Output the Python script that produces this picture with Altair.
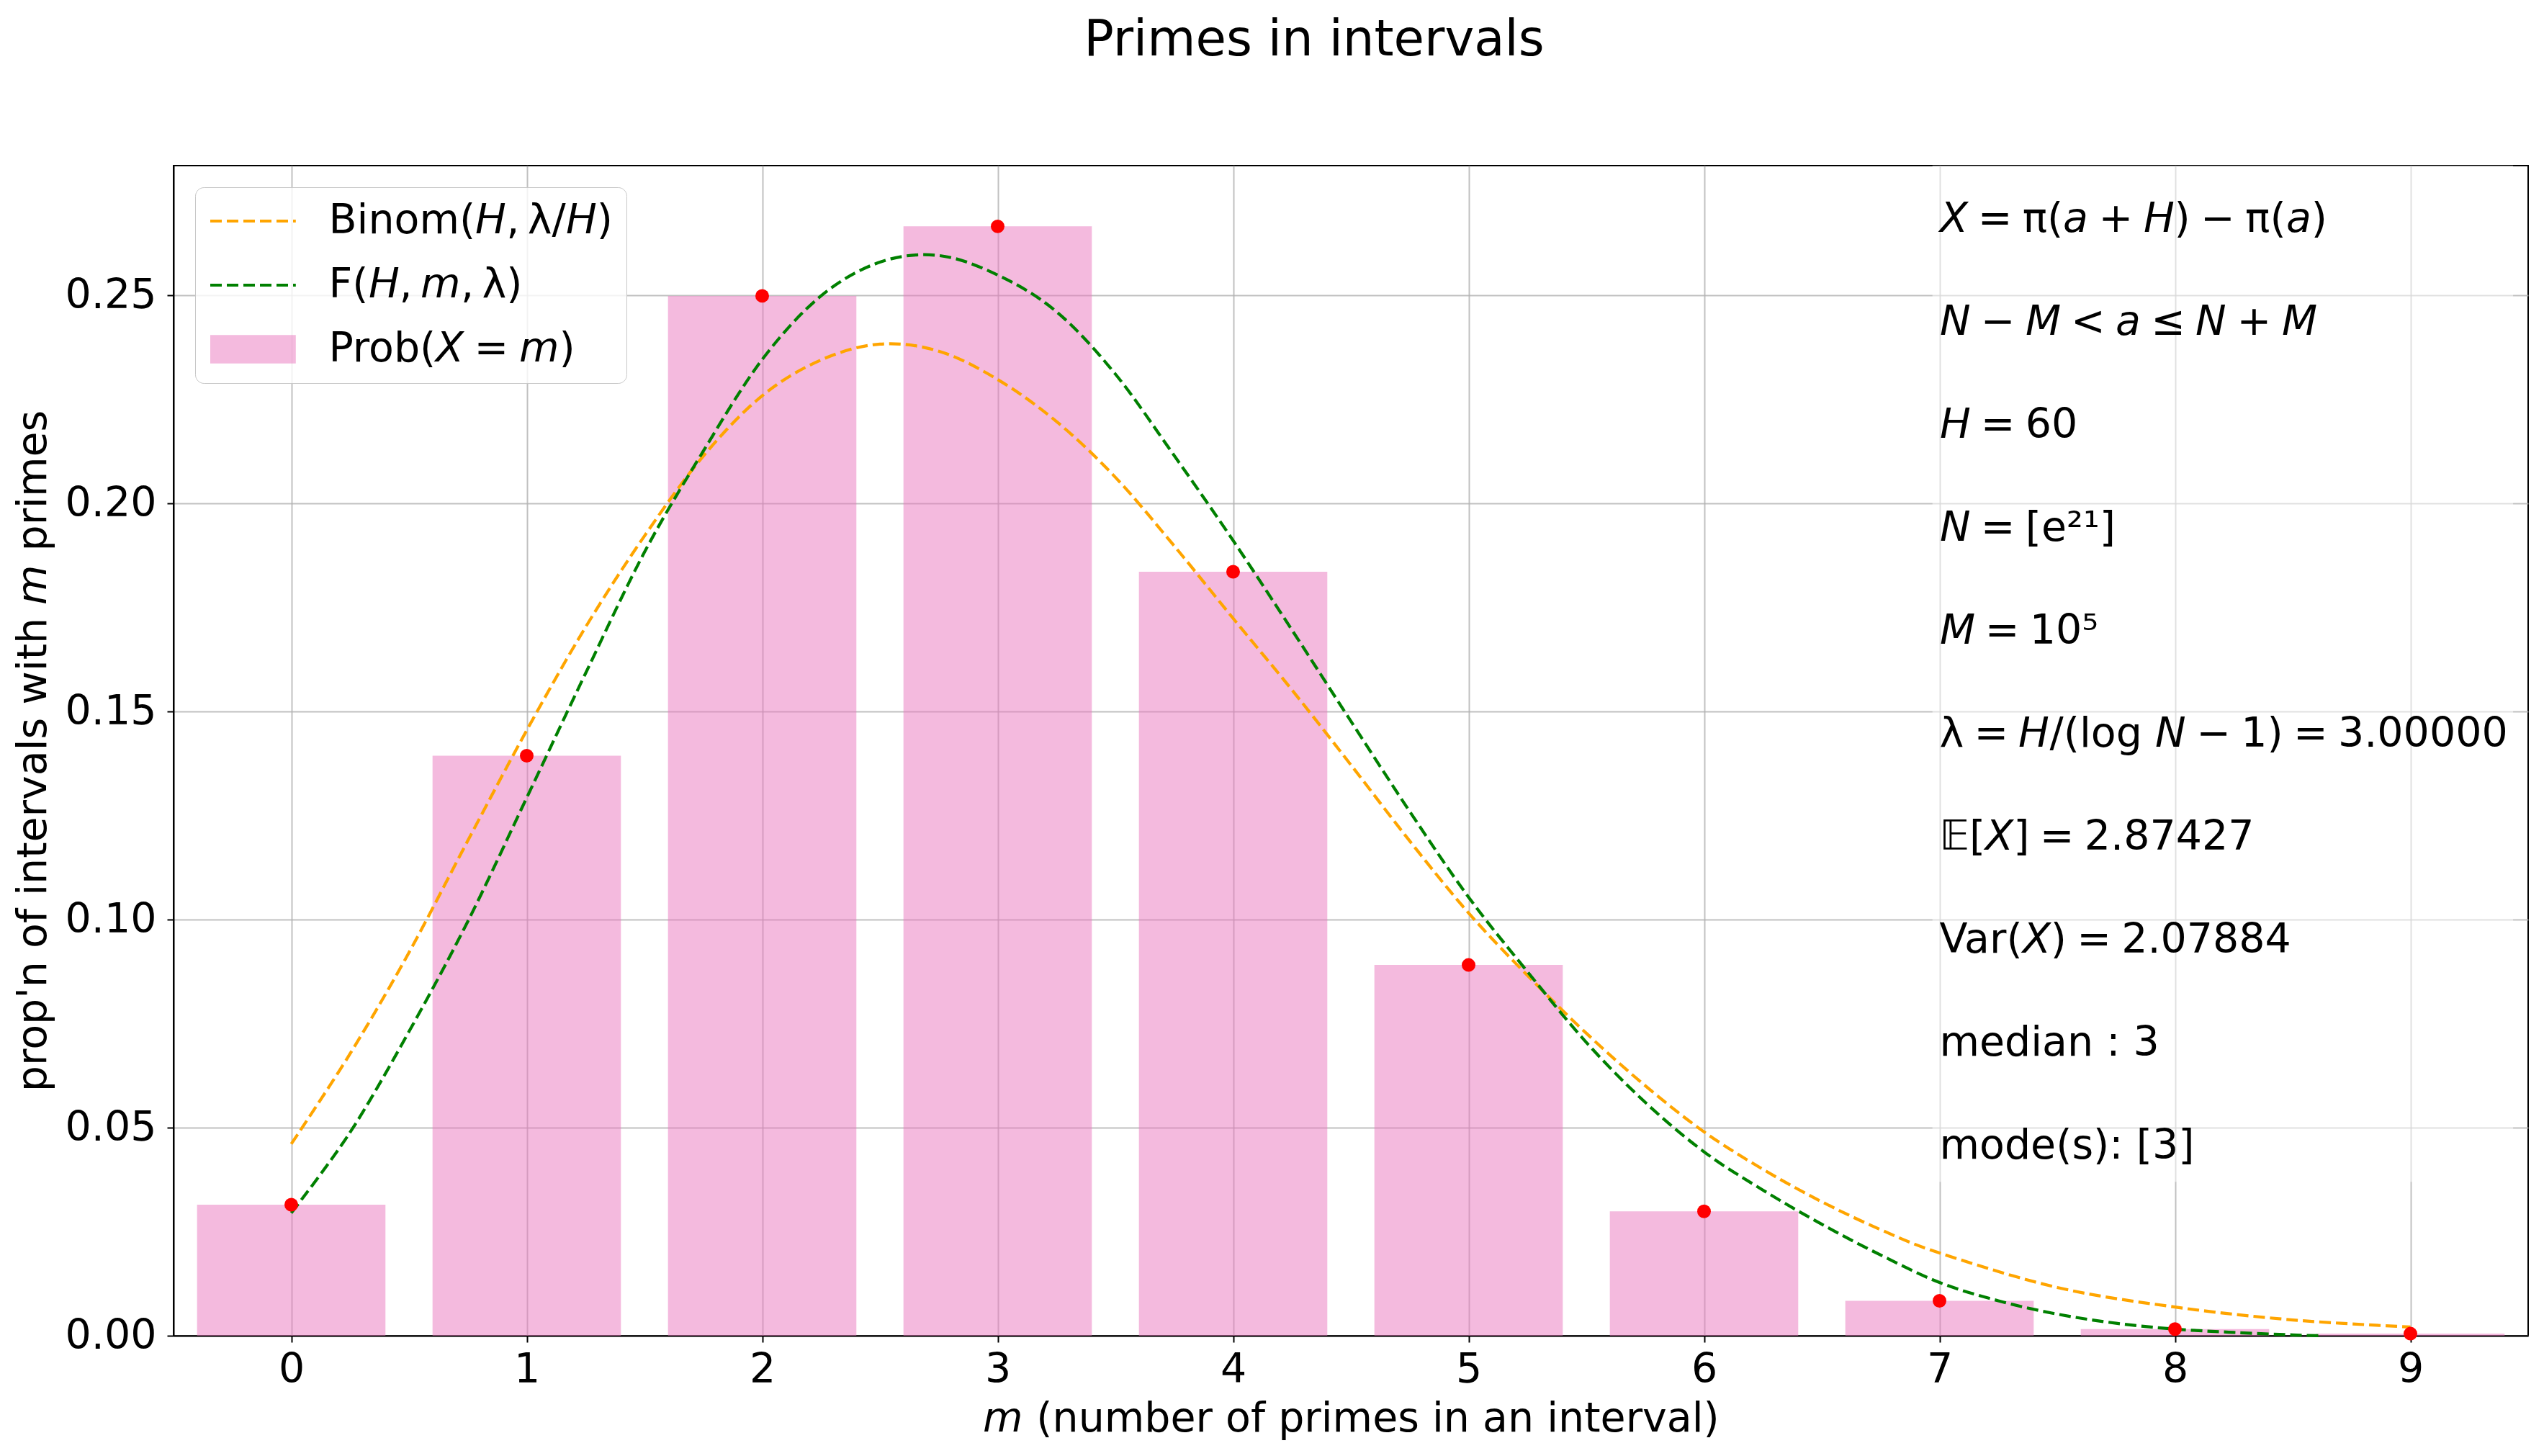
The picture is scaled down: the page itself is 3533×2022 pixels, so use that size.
import altair as alt
import pandas as pd

# ---------------- data ----------------
M_VALUES = [0, 1, 2, 3, 4, 5, 6, 7, 8, 9]
PROB = [0.0315, 0.1394, 0.2499, 0.2666, 0.1836, 0.0891, 0.0299, 0.0084, 0.0016, 0.0005]

BINOM_X = [0, 0.25, 0.5, 0.75, 1.0, 1.25, 1.5, 1.75, 2.0, 2.25, 2.5, 2.75, 3.0, 3.25,
           3.5, 3.75, 4.0, 4.25, 4.5, 4.75, 5.0, 5.25, 5.5, 5.75, 6.0, 6.25, 6.5, 6.75,
           7.0, 7.5, 8.0, 8.5, 9.0]
BINOM_Y = [0.0461, 0.0678, 0.0921, 0.1190, 0.1455, 0.1703, 0.1922, 0.2114, 0.2259, 0.2345,
           0.2383, 0.2366, 0.2298, 0.2197, 0.2063, 0.1898, 0.1724, 0.1552, 0.1372, 0.1189,
           0.1016, 0.0866, 0.0727, 0.0601, 0.0490, 0.0400, 0.0322, 0.0255, 0.0199, 0.0116,
           0.0069, 0.0038, 0.0021]

F_X = [0, 0.25, 0.5, 0.75, 1.0, 1.25, 1.5, 1.75, 2.0, 2.25, 2.5, 2.75, 3.0, 3.25, 3.5,
       3.75, 4.0, 4.25, 4.5, 4.75, 5.0, 5.25, 5.5, 5.75, 6.0, 6.25, 6.5, 6.75, 7.0, 7.25,
       7.5, 7.75, 8.0, 8.25, 8.5, 8.62]
F_Y = [0.0295, 0.0489, 0.0731, 0.0996, 0.1293, 0.1592, 0.1883, 0.2126, 0.2346, 0.2499,
       0.2580, 0.2596, 0.2549, 0.2461, 0.2311, 0.2115, 0.1911, 0.1696, 0.1477, 0.1260,
       0.1054, 0.0875, 0.0705, 0.0561, 0.0442, 0.0350, 0.0268, 0.0194, 0.0128, 0.0084,
       0.0052, 0.0030, 0.0016, 0.0008, 0.0002, 0.0]

X_TICKS = [0, 1, 2, 3, 4, 5, 6, 7, 8, 9]
Y_TICKS = [0.0, 0.05, 0.10, 0.15, 0.20, 0.25]


def it(s):
    """Render ASCII letters as sans-serif italic (math style variables)."""
    out = []
    for ch in s:
        if "A" <= ch <= "Z":
            out.append(chr(0x1D608 + ord(ch) - 65))
        elif "a" <= ch <= "z":
            out.append(chr(0x1D622 + ord(ch) - 97))
        else:
            out.append(ch)
    return "".join(out)


S = "\u2005"   # math-style medium space around operators
T = "\u2009"   # thin space after commas

ANNOT_LINES = [
    it("X") + S + "=" + S + "π(" + it("a") + S + "+" + S + it("H") + ")" + S + "−" + S + "π(" + it("a") + ")",
    it("N") + S + "−" + S + it("M") + S + "<" + S + it("a") + S + "≤" + S + it("N") + S + "+" + S + it("M"),
    it("H") + S + "=" + S + "60",
    it("N") + S + "=" + S + "[e²¹]",
    it("M") + S + "=" + S + "10⁵",
    "λ" + S + "=" + S + it("H") + "/(log " + it("N") + S + "−" + S + "1)" + S + "=" + S + "3.00000",
    "𝔼[" + it("X") + "]" + S + "=" + S + "2.87427",
    "Var(" + it("X") + ")" + S + "=" + S + "2.07884",
    "median : 3",
    "mode(s): [3]",
]

LEGEND_LABELS = {
    "binom": "Binom(" + it("H") + "," + T + "λ/" + it("H") + ")",
    "F": "F(" + it("H") + "," + T + it("m") + "," + T + "λ)",
    "prob": "Prob(" + it("X") + S + "=" + S + it("m") + ")",
}

TITLE = "Primes in intervals"
X_TITLE = it("m") + " (number of primes in an interval)"
Y_TITLE = "prop'n of intervals with " + it("m") + " primes"

FONT = "DejaVu Sans"
FS = 57
ORANGE = "#ffa500"
GREEN = "#008000"
PINK = "#e975bd"

# ---------------- tables ----------------
bars_df = pd.DataFrame({"m": M_VALUES, "prob": PROB})
bars_df["key"] = "prob"

curves_df = pd.concat([
    pd.DataFrame({"x": BINOM_X, "v": BINOM_Y, "key": "binom"}),
    pd.DataFrame({"x": F_X, "v": F_Y, "key": "F"}),
], ignore_index=True)

ANNOT_X = 7.0
ANNOT_TOP = 0.2652
ANNOT_STEP = 0.02474
annot_df = pd.DataFrame({
    "t": ANNOT_LINES,
    "x": [ANNOT_X] * len(ANNOT_LINES),
    "y": [ANNOT_TOP - i * ANNOT_STEP for i in range(len(ANNOT_LINES))],
})
box_df = pd.DataFrame({"x0": [6.97], "x1": [9.436], "y0": [0.037], "y1": [0.2812]})

# ---------------- scales / axes ----------------
xs = alt.Scale(domain=[-0.5, 9.5], nice=False, zero=False)
ys = alt.Scale(domain=[0, 0.2812], nice=False, zero=False)
cs = alt.Scale(domain=["binom", "F", "prob"], range=[ORANGE, GREEN, PINK])

x_axis = alt.Axis(values=X_TICKS, format="d", title=X_TITLE, labelFlush=False,
                  labelPadding=10, titlePadding=12)
y_axis = alt.Axis(values=Y_TICKS, format=".2f", title=Y_TITLE, labelFlush=False,
                  labelPadding=15, titlePadding=15)

label_expr = " : ".join(
    f"datum.value === '{k}' ? '{v}'" for k, v in LEGEND_LABELS.items()
) + " : ''"

legend = alt.Legend(
    title=None,
    orient="none",
    legendX=30,
    legendY=30,
    labelExpr=label_expr,
    labelFont=FONT,
    labelFontSize=FS,
    labelColor="black",
    labelLimit=2000,
    labelOffset=114,
    symbolOffset=-4,
    symbolSize=1936,
    symbolType={"expr": "datum.value === 'prob' ? 'M-1,-0.9H4.4V0.9H-1Z' : 'M-1,0H4.4'"},
    symbolFillColor={"expr": f"datum.value === 'prob' ? '{PINK}' : 'transparent'"},
    symbolStrokeColor={"expr": f"datum.value === 'binom' ? '{ORANGE}' : "
                               f"datum.value === 'F' ? '{GREEN}' : 'transparent'"},
    symbolStrokeWidth={"expr": "datum.value === 'prob' ? 0 : 4.2"},
    symbolDash=[16, 7],
    symbolOpacity={"expr": "datum.value === 'prob' ? 0.5 : 1"},
    rowPadding=31,
    padding=18.5,
    fillColor="rgba(255,255,255,0.8)",
    strokeColor="#c8c8c8",
    cornerRadius=12,
)

color_enc = alt.Color("key:N", scale=cs, legend=legend)

bars = alt.Chart(bars_df).transform_calculate(
    m_lo="datum.m - 0.4", m_hi="datum.m + 0.4", zero="0"
).mark_bar(fillOpacity=0.5).encode(
    x=alt.X("m_lo:Q", scale=xs, axis=x_axis),
    x2="m_hi:Q",
    y=alt.Y("prob:Q", scale=ys, axis=y_axis),
    y2="zero:Q",
    color=color_enc,
)

lines = alt.Chart(curves_df).mark_line(
    strokeDash=[16, 7], strokeWidth=4.2, interpolate="cardinal"
).encode(
    x=alt.X("x:Q", scale=xs, axis=x_axis),
    y=alt.Y("v:Q", scale=ys, axis=y_axis),
    color=color_enc,
)

dots = alt.Chart(bars_df).mark_circle(size=360, color="#ff0000", opacity=1).encode(
    x=alt.X("m:Q", scale=xs, axis=x_axis),
    y=alt.Y("prob:Q", scale=ys, axis=y_axis),
)

box = alt.Chart(box_df).mark_rect(color="white", opacity=0.5).encode(
    x=alt.X("x0:Q", scale=xs, axis=x_axis),
    x2="x1:Q",
    y=alt.Y("y0:Q", scale=ys, axis=y_axis),
    y2="y1:Q",
)

texts = alt.Chart(annot_df).mark_text(
    align="left", baseline="alphabetic", font=FONT, fontSize=FS, color="black"
).encode(
    x=alt.X("x:Q", scale=xs, axis=x_axis),
    y=alt.Y("y:Q", scale=ys, axis=y_axis),
    text="t:N",
)

chart = alt.layer(bars, lines, dots, box, texts).properties(
    width=3270,
    height=1625,
    autosize=alt.AutoSizeParams(type="none"),
    padding={"left": 233, "top": 222, "right": 12, "bottom": 150},
    title=alt.TitleParams(
        text=TITLE, font=FONT, fontSize=69, fontWeight="normal", color="black",
        anchor="middle", frame="group", dx=-51, offset=84, baseline="alphabetic",
    ),
).configure_view(
    stroke="black", strokeWidth=2
).configure_axis(
    domainColor="black", domainWidth=2,
    tickColor="black", tickWidth=2, tickSize=9,
    grid=True, gridColor="#b0b0b0", gridOpacity=0.8, gridWidth=2,
    labelFont=FONT, labelFontSize=FS, labelColor="black", labelOverlap=False,
    titleFont=FONT, titleFontSize=FS, titleFontWeight="normal", titleColor="black",
)

chart.save("out.html", embed_options={"renderer": "svg", "actions": False})
